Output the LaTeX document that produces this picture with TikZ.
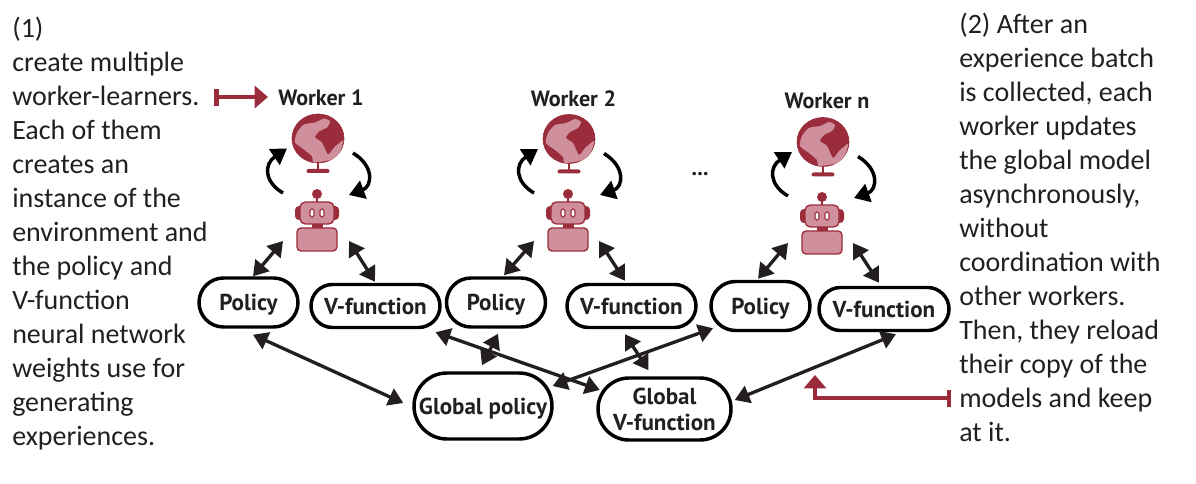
\documentclass[tikz,border=0pt]{standalone}
\usepackage{fontspec}
\setmainfont{Carlito}
\newfontfamily\labfont{PT Sans}
\usetikzlibrary{arrows.meta,shapes.misc,calc}
\definecolor{wred}{HTML}{9B2C3B}
\definecolor{wpink}{HTML}{D08F9C}
\definecolor{ink}{HTML}{231F20}
\tikzset{
  x=0.75pt,y=-0.75pt,
  note/.style={anchor=north west,inner sep=0pt,align=left,text=ink,font=\fontsize{21}{25.5}\selectfont},
  boxnode/.style={draw=black,line width=2.6pt,rounded rectangle,inner sep=0pt,fill=white,text=ink,align=center,text depth=0pt,font=\labfont\bfseries\fontsize{17.3}{19.5}\selectfont},
  worklabel/.style={inner sep=0pt,text=ink,font=\labfont\bfseries\fontsize{16.6}{19}\selectfont},
  anchornode/.style={inner sep=0pt,minimum size=1pt},
  dbl/.style={draw=ink,line width=2.5pt,{Triangle[length=11pt,width=13.5pt]}-{Triangle[length=11pt,width=13.5pt]}},
  cyc/.style={draw=black,line width=2.6pt,-{Triangle[length=11.5pt,width=14pt]}},
  redarrow/.style={draw=wred,line width=3.2pt,-{Triangle[length=10pt,width=16.5pt]}},
  redbar/.style={draw=wred,line width=3.2pt},
  globepic/.pic={
    \fill[wred,draw=wred,line width=0.5pt] (0,0) ellipse [x radius=26,y radius=24.5];
    \fill[wpink] plot[smooth cycle,tension=0.4] coordinates {(-14,-14)(-3,-16)(6,-20)(12,-17)(9,-11)(1,-7)(-3,-1)(4,4)(10,16)(16,9)(25,2)(22,13)(14,21)(-4,24)(-6,18)(-14,11)(-23,4)(-21,-6)};
    \fill[wred] (-1.2,24) rectangle (1.2,32);
    \fill[wred,rounded corners=1.5pt] (-11.5,30.5) rectangle (11.5,34.5);
  },
  robotpic/.pic={
    \fill[wred] (0,-28) circle (5);
    \fill[wred] (-1.2,-25) rectangle (1.2,-19);
    \fill[wred,rounded corners=3pt] (-22,-16) rectangle (22,-2);
    \filldraw[draw=wred,fill=wpink,line width=1pt,rounded corners=4pt] (-17,-20) rectangle (17,2);
    \fill[wred] (-5.5,2) rectangle (5.5,7);
    \filldraw[draw=wred,fill=white,line width=0.8pt,rounded corners=1.2pt] (-7,-13) rectangle (-3,-5);
    \filldraw[draw=wred,fill=white,line width=0.8pt,rounded corners=1.2pt] (3,-13) rectangle (7,-5);
    \filldraw[draw=wred,fill=wpink,line width=1pt,rounded corners=3pt] (-20,6) rectangle (20,29);
  }
}
\begin{document}
\begin{tikzpicture}
\useasboundingbox (0,0) rectangle (1196,484);

% notes
\node[note] (left) at (12,17) {(1)\\create multiple\\worker-learners.\\Each of them\\creates an\\instance of the\\environment and\\the policy and\\V-function\\neural network\\weights use for\\generating\\experiences.};
\node[note] (right) at (959,13) {(2) After an\\experience batch\\is collected, each\\worker updates\\the global model\\asynchronously,\\without\\coordination with\\other workers.\\Then, they reload\\their copy of the\\models and keep\\at it.};

% worker labels
\node[worklabel] (l1) at (321,98) {Worker 1};
\node[worklabel] (l2) at (573.5,99) {Worker 2};
\node[worklabel] (l3) at (827,101) {Worker n};
\node[worklabel] (dots) at (700,174) {...};

% globes and robots
\node[anchornode] (g1) at (318,138.5) {};
\node[anchornode] (g2) at (569,139) {};
\node[anchornode] (g3) at (823,142) {};
\node[anchornode] (r1) at (317,222) {};
\node[anchornode] (r2) at (568,222) {};
\node[anchornode] (r3) at (822,225) {};
\foreach \n in {1,2,3}{
  \pic at (g\n) {globepic};
  \pic at (r\n) {robotpic};
  \draw[cyc] ($(r\n)+(-34,-29)$) .. controls ($(r\n)+(-53,-40)$) and ($(r\n)+(-53,-58)$) .. ($(g\n)+(-31,10)$);
  \draw[cyc] ($(g\n)+(35,14.5)$) .. controls ($(g\n)+(57,28)$) and ($(g\n)+(54,48)$) .. ($(r\n)+(32,-27)$);
}

% model nodes
\node[boxnode,minimum width=99pt*0.75,minimum height=49pt*0.75] (p1) at (248.5,302.5) {Policy};
\node[boxnode,minimum width=129pt*0.75,minimum height=43pt*0.75] (v1) at (375.5,306) {V-function};
\node[boxnode,minimum width=99pt*0.75,minimum height=49pt*0.75] (p2) at (496,302.5) {Policy};
\node[boxnode,minimum width=129pt*0.75,minimum height=43pt*0.75] (v2) at (631.5,306) {V-function};
\node[boxnode,minimum width=99pt*0.75,minimum height=49pt*0.75] (p3) at (760.5,306) {Policy};
\node[boxnode,minimum width=130pt*0.75,minimum height=43pt*0.75] (v3) at (884,309) {V-function};
\node[boxnode,minimum width=138pt*0.75,minimum height=66pt*0.75] (gp) at (483,406) {Global policy};
\node[boxnode,minimum width=133pt*0.75,minimum height=62pt*0.75] (gv) at (664.5,409) {Global\\V-function};

% robot to model connectors
\draw[dbl] ($(r1)+(-34,19)$) -- ($(p1.north)+(4.5,0)$);
\draw[dbl] ($(r1)+(32,19)$) -- ($(v1.north)+(-0.5,-1)$);
\draw[dbl] ($(r2)+(-34,19)$) -- ($(p2.north)+(8,-1)$);
\draw[dbl] ($(r2)+(31,19)$) -- ($(v2.north)+(-6.5,-2)$);
\draw[dbl] ($(r3)+(-34,18)$) -- ($(p3.north)+(-2.5,-1)$);
\draw[dbl] ($(r3)+(31,18)$) -- ($(v3.north)+(-5,-3)$);

% model to global connectors
\draw[dbl] ($(p1.south)+(4.5,6)$) -- ($(gp.west)+(-9,-3)$);
\draw[dbl] ($(v1.south)+(60,3)$) -- ($(gv.west)+(3.5,-19)$);
\draw[dbl] ($(p2.south)+(2,5)$) -- ($(gp.north)+(-1,-6)$);
\draw[dbl] ($(v2.south)+(-6.5,5)$) -- ($(gv.north)+(-16,-6)$);
\draw[dbl] ($(p3.south)+(-47.5,-4)$) -- ($(gp.east)+(-1,-20)$);
\draw[dbl] ($(v3.south)+(12,2)$) -- ($(gv.east)+(2,-9)$);

% red pointers
\coordinate (a1) at (216,97);
\coordinate (a2) at (268,97);
\draw[redarrow] (a1) -- (a2);
\draw[redbar] (216.5,89) -- (216.5,106);
\coordinate (b1) at (949,398);
\coordinate (b2) at (815,375);
\draw[redarrow] (b1) -| (b2);
\draw[redbar] (949,390) -- (949,407);
\end{tikzpicture}
\end{document}
